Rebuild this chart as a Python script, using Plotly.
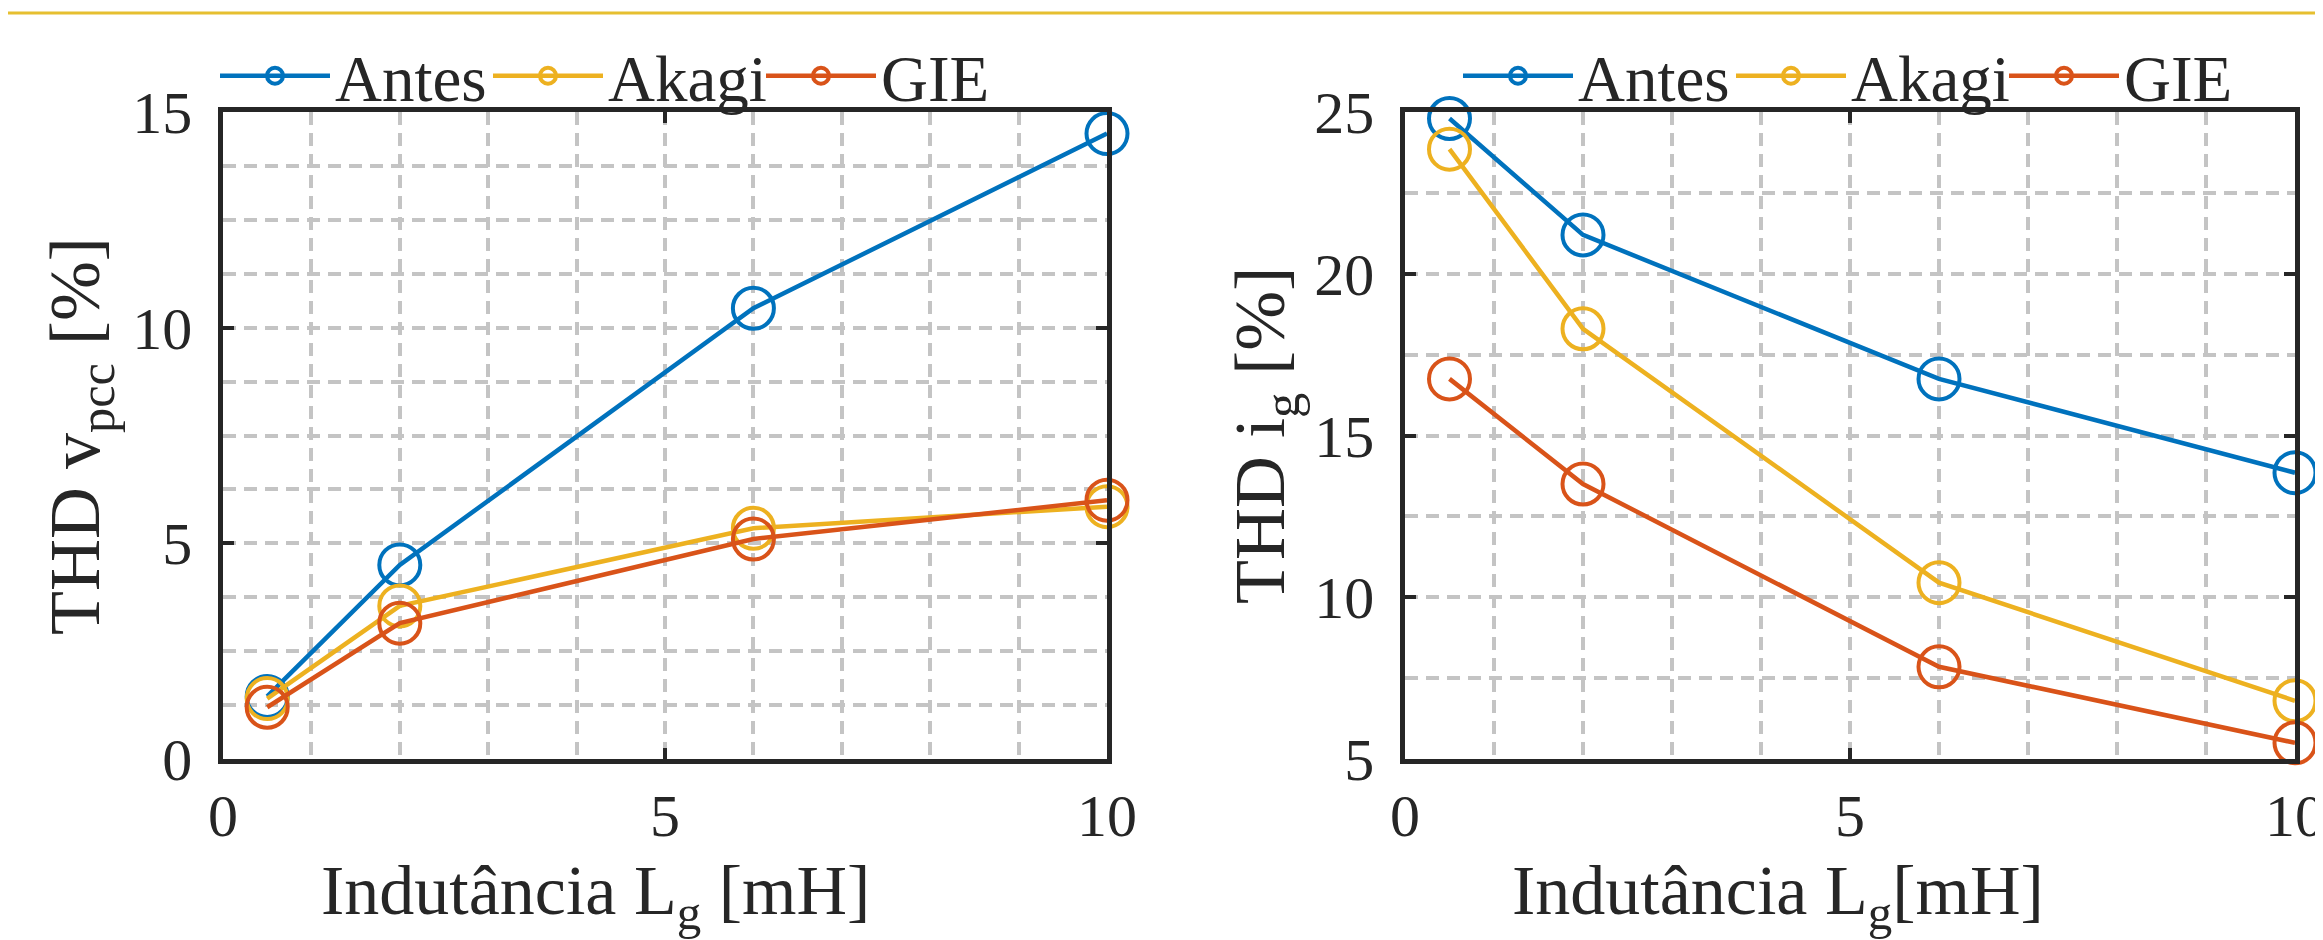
import plotly.graph_objects as go

# ---------------- data ----------------
x_lg = [0.5, 2, 6, 10]                       # Indutância Lg [mH]
series_names = ["Antes", "Akagi", "GIE"]
vpcc_antes = [1.45, 4.5, 10.45, 14.5]        # THD v_pcc [%]
vpcc_akagi = [1.4, 3.55, 5.35, 5.85]
vpcc_gie = [1.2, 3.15, 5.1, 6.0]
ig_antes = [24.8, 21.2, 16.75, 13.85]        # THD i_g [%]
ig_akagi = [23.85, 18.3, 10.45, 6.8]
ig_gie = [16.75, 13.5, 7.85, 5.5]
x_ticks = [0, 5, 10]
y1_ticks = [0, 5, 10, 15]
y2_ticks = [5, 10, 15, 20, 25]

colors = ["#0072BD", "#EDB120", "#D95319"]

W, H = 2323, 940
OFF = 8  # page body margin
FONT = "Liberation Serif"
TXT = "#262626"
GRID = "#c4c4c4"
AXC = "#262626"


def px_x(p):
    return (p - OFF) / W


def px_y(p):
    return 1 - (p - OFF) / H


fig = go.Figure()

left_sets = [vpcc_antes, vpcc_akagi, vpcc_gie]
right_sets = [ig_antes, ig_akagi, ig_gie]

for name, ys, c in zip(series_names, left_sets, colors):
    fig.add_trace(go.Scatter(
        x=x_lg, y=ys, name=name, mode="lines+markers",
        xaxis="x", yaxis="y", legend="legend",
        line=dict(color=c, width=4.5),
        marker=dict(symbol="circle-open", size=41, color=c, line=dict(width=4, color=c)),
        cliponaxis=False,
    ))

for name, ys, c in zip(series_names, right_sets, colors):
    fig.add_trace(go.Scatter(
        x=x_lg, y=ys, name=name, mode="lines+markers",
        xaxis="x2", yaxis="y2", legend="legend2",
        line=dict(color=c, width=4.5),
        marker=dict(symbol="circle-open", size=41, color=c, line=dict(width=4, color=c)),
        cliponaxis=False,
    ))

ydom = [px_y(759), px_y(112)]


def axis(domain, rng, tickvals, minor_dtick, anchor, standoff):
    return dict(
        domain=domain, range=rng, tickmode="array", tickvals=tickvals,
        showline=True, linewidth=4.5, linecolor=AXC, mirror="ticks",
        ticks="inside", ticklen=11, tickwidth=4, tickcolor=AXC,
        showgrid=True, gridcolor=GRID, gridwidth=4, griddash="13px,8px",
        zeroline=False, anchor=anchor, automargin=False,
        tickfont=dict(family=FONT, size=60, color=TXT),
        ticklabelstandoff=standoff,
        minor=dict(dtick=minor_dtick, tick0=rng[0], showgrid=True, gridcolor=GRID,
                   gridwidth=4, griddash="13px,8px", ticks=""),
        fixedrange=True,
    )


legend_common = dict(orientation="h", xanchor="left", yanchor="middle",
                     font=dict(family=FONT, size=65, color=TXT), bgcolor="rgba(0,0,0,0)",
                     itemwidth=110, entrywidth=148)

fig.update_layout(
    width=W, height=H,
    margin=dict(l=0, r=0, t=0, b=0, pad=0, autoexpand=False),
    paper_bgcolor="white", plot_bgcolor="white",
    font=dict(family=FONT, color=TXT),
    xaxis=axis([px_x(223), px_x(1107)], [0, 10], x_ticks, 1, "y", 0),
    yaxis=axis(ydom, [0, 15], y1_ticks, 1.25, "x", 14),
    xaxis2=axis([px_x(1405), px_x(2295)], [0, 10], x_ticks, 1, "y2", 0),
    yaxis2=axis(ydom, [5, 25], y2_ticks, 2.5, "x2", 14),
    legend=dict(x=px_x(215), y=px_y(76), **legend_common),
    legend2=dict(x=px_x(1458), y=px_y(76), **legend_common),
    shapes=[dict(type="line", xref="paper", yref="paper", x0=0, x1=1,
                 y0=px_y(13), y1=px_y(13), line=dict(color="#E6BF30", width=3))],
)

title_font = dict(family=FONT, size=70, color=TXT)
ytitle_font = dict(family=FONT, size=72, color=TXT)
fig.add_annotation(text="Indutância L<sub>g</sub> [mH]", xref="paper", yref="paper",
                   x=px_x(319), y=px_y(850), xanchor="left", yanchor="top",
                   showarrow=False, font=title_font)
fig.add_annotation(text="Indutância L<sub>g</sub>[mH]", xref="paper", yref="paper",
                   x=px_x(1510), y=px_y(850), xanchor="left", yanchor="top",
                   showarrow=False, font=title_font)
fig.add_annotation(text="THD v<sub>pcc</sub> [%]", xref="paper", yref="paper",
                   x=px_x(33), y=px_y(436), xanchor="left", yanchor="middle",
                   textangle=-90, showarrow=False, font=ytitle_font)
fig.add_annotation(text="THD i<sub>g</sub> [%]", xref="paper", yref="paper",
                   x=px_x(1218), y=px_y(436), xanchor="left", yanchor="middle",
                   textangle=-90, showarrow=False, font=ytitle_font)

fig.write_html("out.html")
